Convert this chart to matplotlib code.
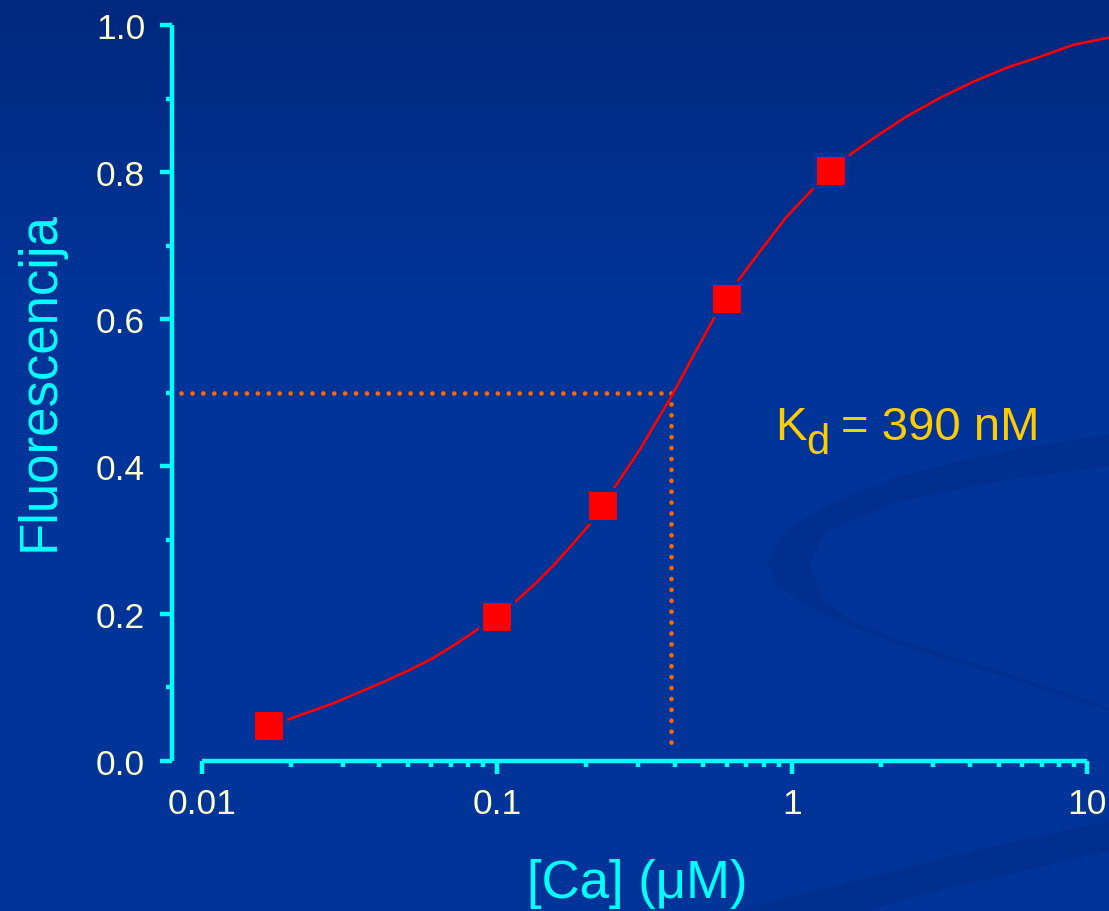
import numpy as np
import matplotlib
matplotlib.use('Agg')
import matplotlib.pyplot as plt
from matplotlib.patches import Polygon
from matplotlib.ticker import FixedLocator, FixedFormatter, NullFormatter

plt.rcParams['font.family'] = ['Liberation Sans', 'DejaVu Sans']

# izmjereni podaci (kvadrati)
ca_conc = [0.0169, 0.100, 0.229, 0.601, 1.356]
fluor = [0.0475, 0.196, 0.346, 0.628, 0.801]

# krivulja prilagodbe, ocitana sa slike
fit_conc = [0.0196, 0.0279, 0.0412, 0.0501, 0.0608, 0.0712, 0.0842, 0.116, 0.1343,
            0.155, 0.1792, 0.207, 0.2545, 0.305, 0.396, 0.475, 0.548, 0.663, 0.787,
            0.961, 1.181, 1.573, 1.884, 2.448, 3.170, 4.117, 5.333, 6.928, 8.966, 11.87]
fit_fluor = [0.056, 0.078, 0.107, 0.1225, 0.1395, 0.1565, 0.176, 0.217, 0.240,
             0.265, 0.293, 0.322, 0.376, 0.423, 0.500, 0.559, 0.604, 0.655, 0.695,
             0.740, 0.778, 0.824, 0.846, 0.876, 0.901, 0.923, 0.942, 0.957, 0.973, 0.983]

kd = 0.39       # uM
half = 0.5

x_ticks = [0.01, 0.1, 1, 10]
x_labels = ['0.01', '0.1', '1', '10']
y_ticks = [0.0, 0.2, 0.4, 0.6, 0.8, 1.0]
y_labels = ['0.0', '0.2', '0.4', '0.6', '0.8', '1.0']

W, H = 1109, 912
fig = plt.figure(figsize=(W / 100, H / 100), dpi=100)

# pozadina: gradijent + ukrasni luk
bg = fig.add_axes([0, 0, 1, 1], zorder=-5)
bg.set_xlim(0, W)
bg.set_ylim(H, 0)
bg.axis('off')
yy = np.linspace(0, 1, 200)[:, None]
top = np.array([0, 40, 125]) / 255
mid = np.array([0, 52, 152]) / 255
t = np.clip(yy / 0.33, 0, 1)
grad = top + (mid - top) * t[..., None]
grad = np.repeat(grad, 2, axis=1)
bg.imshow(grad, extent=[0, W, H, 0], aspect='auto', zorder=0)

dark = (0, 47 / 255, 143 / 255)
swoosh_out = [(1109, 435), (1000, 453), (900, 477), (833, 503), (787, 530), (767, 560),
              (777, 587), (817, 613), (900, 647), (1000, 676), (1109, 712)]
swoosh_in = [(1109, 709), (1000, 672), (900, 641), (850, 621), (822, 598), (810, 565),
             (825, 533), (900, 502), (1000, 482), (1109, 467)]
bg.add_patch(Polygon(swoosh_out + swoosh_in, closed=True, fc=dark, ec='none', zorder=1))
band = [(733, 912), (833, 887), (967, 853), (1109, 822), (1109, 852), (933, 893), (867, 912)]
bg.add_patch(Polygon(band, closed=True, fc=dark, ec='none', zorder=1))

ax = fig.add_axes([171.5 / W, 150.3 / H, 1 - 171.5 / W, 735.7 / H])
ax.set_facecolor('none')
ax.set_xscale('log')
ax.set_xlim(10 ** -2.1023, 10 ** 1.0732)
ax.set_ylim(0, 1)

cyan = '#00FFFF'
cream = '#FFFFCC'
orange = '#FF6600'
bgc = (0, 52 / 255, 152 / 255)

# tockaste linije za Kd
ax.plot([0.0085, kd], [half, half], color=orange, lw=3.4, linestyle=(0, (0.01, 2.3)),
        dash_capstyle='round', zorder=2)
ax.plot([kd, kd], [half, 0.018], color=orange, lw=3.4, linestyle=(0, (0.01, 2.3)),
        dash_capstyle='round', zorder=2)

ax.plot(fit_conc, fit_fluor, color='#FF0000', lw=1.9, zorder=3)
ax.plot(ca_conc, fluor, linestyle='none', marker='s', markersize=23, color='#FF0000',
        markeredgecolor=bgc, markeredgewidth=2.9, zorder=4)

for s in ['top', 'right']:
    ax.spines[s].set_visible(False)
for s in ['left', 'bottom']:
    ax.spines[s].set_color(cyan)
    ax.spines[s].set_linewidth(3.2)
    ax.spines[s].set_capstyle('butt')
ax.spines['bottom'].set_bounds(0.01, 10)

minor_x = [m * 10.0 ** e for e in (-2, -1, 0) for m in range(2, 10)]
ax.xaxis.set_major_locator(FixedLocator(x_ticks))
ax.xaxis.set_major_formatter(FixedFormatter(x_labels))
ax.xaxis.set_minor_locator(FixedLocator(minor_x))
ax.xaxis.set_minor_formatter(NullFormatter())
ax.yaxis.set_major_locator(FixedLocator(y_ticks))
ax.yaxis.set_major_formatter(FixedFormatter(y_labels))
ax.yaxis.set_minor_locator(FixedLocator([0.1, 0.3, 0.5, 0.7, 0.9]))

ax.tick_params(which='major', direction='out', color=cyan, width=3.2, length=9,
               labelcolor=cream, labelsize=25.5)
ax.tick_params(which='minor', direction='out', color=cyan, width=3.2, length=4.3)
ax.tick_params(axis='y', which='major', pad=10)
ax.tick_params(axis='x', which='major', pad=10)

fig.text(40 / W, 1 - 381 / H, 'Fluorescencija', rotation=90, ha='center', va='center',
         color=cyan, fontsize=38)
fig.text(637 / W, 1 - 898 / H, '[Ca] (\u03bcM)', ha='center', va='baseline',
         color=cyan, fontsize=38)

gold = '#FFCC00'
fig.text(775 / W, 1 - 440 / H, 'K', ha='left', va='baseline', color=gold, fontsize=34)
fig.text(806 / W, 1 - 454 / H, 'd', ha='left', va='baseline', color=gold, fontsize=30)
fig.text(841 / W, 1 - 440 / H, '= 390 nM', ha='left', va='baseline', color=gold, fontsize=34)

fig.savefig('out.png', dpi=100)
